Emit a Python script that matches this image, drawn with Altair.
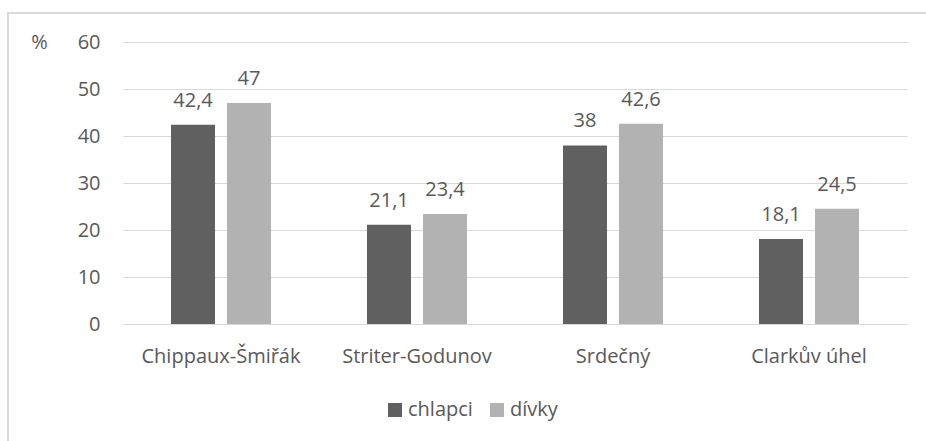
import altair as alt
import pandas as pd

# Shares (%) of each method, boys vs girls
methods = ["Chippaux-Šmiřák", "Striter-Godunov", "Srdečný", "Clarkův úhel"]
groups = ["chlapci", "dívky"]
chlapci = [42.4, 21.1, 38.0, 18.1]
divky = [47.0, 23.4, 42.6, 24.5]

rows = []
for m, a, b in zip(methods, chlapci, divky):
    rows.append({"metoda": m, "skupina": groups[0], "hodnota": a})
    rows.append({"metoda": m, "skupina": groups[1], "hodnota": b})
df = pd.DataFrame(rows)

FONT = "Open Sans"
FS = 20
TXT = "#595959"
GRID = "#d9d9d9"

W, H = 784, 282

x_enc = alt.X(
    "metoda:N",
    sort=methods,
    scale=alt.Scale(paddingInner=0, paddingOuter=0),
    axis=alt.Axis(
        title=None, labelAngle=0, ticks=False, tickSize=0, domain=True,
        domainColor=GRID, labelPadding=22, labelFontSize=FS,
        labelColor=TXT, labelFont=FONT,
    ),
)
xo_enc = alt.XOffset(
    "skupina:N",
    sort=groups,
    scale=alt.Scale(domain=groups, paddingInner=0.214, paddingOuter=0.857),
)
y_enc = alt.Y(
    "hodnota:Q",
    scale=alt.Scale(domain=[0, 60], nice=False),
    axis=alt.Axis(
        values=[0, 10, 20, 30, 40, 50, 60], grid=True, gridColor=GRID,
        domain=False, ticks=False, tickSize=0, labelPadding=23,
        labelFontSize=FS, labelColor=TXT, labelFont=FONT,
        title="%", titleAngle=0, titleX=-84, titleY=0, titleAlign="center",
        titleBaseline="middle", titleFontSize=FS, titleFontWeight="normal",
        titleColor=TXT, titleFont=FONT,
    ),
)

bars = alt.Chart(df).mark_bar().encode(
    x=x_enc,
    xOffset=xo_enc,
    y=y_enc,
    color=alt.Color(
        "skupina:N",
        sort=groups,
        scale=alt.Scale(domain=groups, range=["#606060", "#b2b2b2"]),
        legend=alt.Legend(
            title=None, orient="none", direction="horizontal",
            legendX=262, legendY=358, symbolType="square", symbolSize=196,
            symbolStrokeWidth=0, labelFontSize=FS, labelColor=TXT,
            labelFont=FONT, columnPadding=14, labelOffset=3,
        ),
    ),
)

labels = alt.Chart(df).transform_calculate(
    label="replace(toString(datum.hodnota), '.', ',')"
).mark_text(
    baseline="alphabetic", dy=-18, fontSize=FS, color=TXT, font=FONT
).encode(
    x=alt.X("metoda:N", sort=methods),
    xOffset=alt.XOffset("skupina:N", sort=groups),
    y="hodnota:Q",
    text="label:N",
)

frame = alt.Chart(df).mark_rect(
    fill=None, stroke=GRID, strokeWidth=2, clip=False
).encode(
    x=alt.value(-115), x2=alt.value(W + 40),
    y=alt.value(-29), y2=alt.value(H + 140),
)

chart = alt.layer(frame, bars, labels).properties(
    width=W, height=H,
    autosize=alt.AutoSizeParams(type="none"),
    padding={"left": 123, "top": 42, "right": 19, "bottom": 117},
    background="white",
).configure_view(stroke=None)

chart.save("out.html", embed_options={"renderer": "svg", "actions": False})
